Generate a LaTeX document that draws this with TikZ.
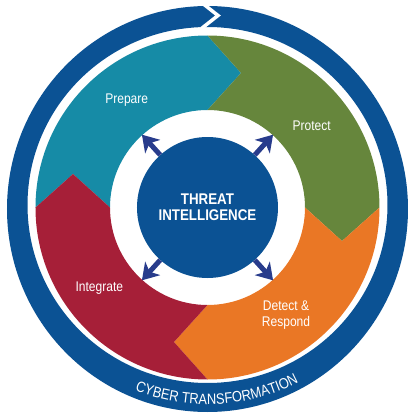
\documentclass[tikz,border=0pt]{standalone}
\usepackage{fontspec}
\setmainfont{Liberation Sans}
\newfontfamily\condfont[FakeStretch=0.86]{Liberation Sans}
\usetikzlibrary{arrows.meta,decorations.text}

\definecolor{anillo}{RGB}{11,82,148}
\definecolor{colPrepare}{RGB}{22,139,166}
\definecolor{colProtect}{RGB}{102,134,60}
\definecolor{colDetect}{RGB}{234,119,37}
\definecolor{colIntegrate}{RGB}{166,31,56}
\definecolor{flechaazul}{RGB}{40,60,140}

\tikzset{
    etiqueta/.style={text=white, font=\condfont\fontsize{14}{16}\selectfont, align=center},
    flecha/.style={-{Stealth[length=16pt,width=20pt,inset=4.5pt]}, line width=5pt, draw=flechaazul},
}

\begin{document}
\begin{tikzpicture}[x=1pt,y=1pt]
    \useasboundingbox (-207.5,-205.5) rectangle (208.5,207.5);

    % Anillo exterior
    \fill[anillo, even odd rule] (0,-1.5) ellipse [x radius=200.5, y radius=203]
        (0,2.5) ellipse [x radius=180, y radius=178];
    % Corte en forma de flecha
    \draw[white, line width=3.5pt] (-6,205) -- (10.5,192) -- (-6,179);

    % Texto del anillo
    \path[decorate, decoration={text along path, text align=center, text color=white,
        text={|\condfont\fontsize{15}{15}\selectfont|CYBER TRANSFORMATION}}]
        (248:197) arc[start angle=248, end angle=298, radius=197];

    % Segmentos del ciclo
    \foreach \ang/\col in {0/colPrepare, -90/colProtect, -180/colDetect, -270/colIntegrate} {
        \fill[\col, rotate=\ang] (-172,0) -- (-134.5,33.5) -- (-97.5,0)
            arc[start angle=180, end angle=90, radius=97.5]
            -- (33.5,134.5) -- (0,172)
            arc[start angle=90, end angle=180, radius=172] -- cycle;
    }

    % Circulo central
    \node[circle, fill=anillo, minimum size=141pt, inner sep=0pt, text=white,
        font=\condfont\bfseries\fontsize{15.5}{16}\selectfont, align=center]
        (ti) at (0,0) {THREAT\\INTELLIGENCE};

    % Flechas hacia cada fase
    \foreach \a/\nombre in {48/ne, 132/no, 228/so, 312/se} {
        \coordinate (\nombre) at (\a:98);
        \draw[flecha] (ti.\a) -- (\nombre);
    }

    % Etiquetas de las fases
    \node[etiqueta] (prepare) at (-80.8,107.5) {Prepare};
    \node[etiqueta] (protect) at (104.2,81.8) {Protect};
    \node[etiqueta] (detect) at (78.5,-107.8) {Detect \&\\Respond};
    \node[etiqueta] (integrate) at (-108.2,-80.8) {Integrate};
\end{tikzpicture}
\end{document}
